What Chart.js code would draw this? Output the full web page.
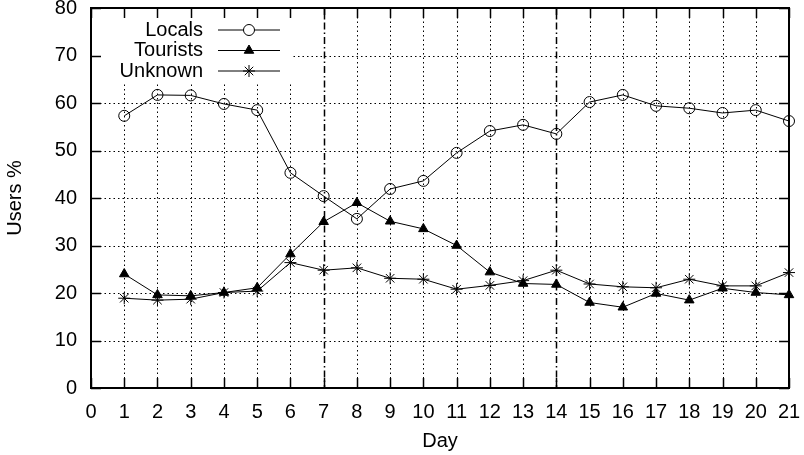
<!DOCTYPE html>
<html>
<head>
<meta charset="utf-8">
<script src="https://cdn.jsdelivr.net/npm/chart.js@4"></script>
<style>
  html, body { margin: 0; padding: 0; background: #fff; }
  #wrap { width: 804px; height: 455px; }
</style>
</head>
<body>
<div id="wrap"><canvas id="chart" width="804" height="455"></canvas></div>
<script>
const days = [1, 2, 3, 4, 5, 6, 7, 8, 9, 10, 11, 12, 13, 14, 15, 16, 17, 18, 19, 20, 21];
const locals = [57.3, 61.7, 61.6, 59.8, 58.5, 45.3, 40.4, 35.6, 41.9, 43.6, 49.5, 54.1, 55.4, 53.5, 60.2, 61.7, 59.4, 58.9, 57.9, 58.5, 56.2];
const tourists = [24.0, 19.6, 19.4, 20.1, 21.1, 28.2, 35.0, 39.0, 35.1, 33.5, 30.0, 24.4, 22.0, 21.8, 18.0, 17.0, 19.9, 18.5, 21.0, 20.1, 19.6];
const unknown = [18.9, 18.5, 18.7, 20.1, 20.4, 26.4, 24.8, 25.3, 23.1, 22.9, 20.8, 21.6, 22.6, 24.8, 21.9, 21.3, 21.1, 22.9, 21.5, 21.5, 24.3];
const weekLines = [7, 14];

const FONT = '"Liberation Sans", Arial, sans-serif';

function pts(values) {
    return days.map((d, i) => ({ x: d, y: values[i] }));
}

function line(ctx, x1, y1, x2, y2) {
    ctx.beginPath();
    ctx.moveTo(x1, y1);
    ctx.lineTo(x2, y2);
    ctx.stroke();
}

// gnuplot-like frame: dotted grid, week markers, inward ticks, boxed legend
const frame = {
    id: 'frame',
    beforeDatasetsDraw(chart) {
        const { ctx, chartArea: a, scales: { x, y } } = chart;
        ctx.save();
        ctx.strokeStyle = '#000';
        ctx.lineWidth = 1;
        ctx.setLineDash([1.5, 3]);
        x.ticks.forEach(t => {
            if (t.value <= x.min || t.value >= x.max || weekLines.includes(t.value)) return;
            const px = Math.round(x.getPixelForValue(t.value)) + 0.5;
            line(ctx, px, a.top, px, a.bottom);
        });
        y.ticks.forEach(t => {
            if (t.value <= y.min || t.value >= y.max) return;
            const py = Math.round(y.getPixelForValue(t.value)) + 0.5;
            line(ctx, a.left, py, a.right, py);
        });

        ctx.lineWidth = 1.5;
        ctx.setLineDash([7, 3, 1.5, 3]);
        weekLines.forEach(d => {
            const px = Math.round(x.getPixelForValue(d)) + 0.5;
            line(ctx, px, a.top, px, a.bottom);
        });
        ctx.setLineDash([]);

        // key box is opaque
        ctx.fillStyle = '#fff';
        ctx.fillRect(101, 18, 191, 66);

        ctx.lineWidth = 1.5;
        x.ticks.forEach(t => {
            const px = Math.round(x.getPixelForValue(t.value)) + 0.5;
            line(ctx, px, a.bottom, px, a.bottom - 10);
            line(ctx, px, a.top, px, a.top + 10);
        });
        y.ticks.forEach(t => {
            const py = Math.round(y.getPixelForValue(t.value)) + 0.5;
            line(ctx, a.left, py, a.left + 10, py);
            line(ctx, a.right, py, a.right - 10, py);
        });
        ctx.restore();
    },
    afterDatasetsDraw(chart) {
        const { ctx, chartArea: a } = chart;
        ctx.save();
        ctx.strokeStyle = '#000';
        ctx.lineWidth = 2;
        ctx.strokeRect(a.left, a.top, a.right - a.left, a.bottom - a.top);

        ctx.font = '20px ' + FONT;
        ctx.textAlign = 'right';
        ctx.textBaseline = 'middle';
        chart.data.datasets.forEach((ds, i) => {
            const yy = 30 + i * 20.5;
            ctx.fillStyle = '#000';
            ctx.fillText(ds.label, 203, yy);
            ctx.lineWidth = 1;
            line(ctx, 218, yy, 280, yy);
            ctx.fillStyle = ds.legendFill;
            ctx.strokeStyle = '#000';
            Chart.helpers.drawPoint(ctx, {
                pointStyle: ds.pointStyle,
                radius: ds.pointRadius,
                rotation: 0,
                borderWidth: 1
            }, 249, yy);
        });
        ctx.restore();
    }
};

new Chart(document.getElementById('chart'), {
    type: 'line',
    data: {
        datasets: [{
            label: 'Locals',
            data: pts(locals),
            pointStyle: 'circle',
            pointRadius: 5.5,
            pointBackgroundColor: 'rgba(0,0,0,0)',
            legendFill: '#fff'
        }, {
            label: 'Tourists',
            data: pts(tourists),
            pointStyle: 'triangle',
            pointRadius: 5.5,
            pointBackgroundColor: '#000',
            legendFill: '#000'
        }, {
            label: 'Unknown',
            data: pts(unknown),
            pointStyle: 'star',
            pointRadius: 6,
            pointBackgroundColor: '#000',
            legendFill: '#000'
        }].map(ds => Object.assign({
            borderColor: '#000',
            borderWidth: 1,
            pointBorderColor: '#000',
            pointBorderWidth: 1,
            tension: 0,
            clip: false
        }, ds))
    },
    options: {
        responsive: false,
        animation: false,
        devicePixelRatio: 1,
        layout: { padding: { top: 8, right: 15, left: 0, bottom: 0 } },
        plugins: {
            legend: { display: false },
            tooltip: { enabled: false }
        },
        scales: {
            x: {
                type: 'linear',
                min: 0,
                max: 21,
                ticks: { stepSize: 1, color: '#000', padding: 12, font: { family: FONT, size: 20 } },
                grid: { display: false, drawTicks: false },
                border: { display: false },
                title: {
                    display: true,
                    text: 'Day',
                    color: '#000',
                    font: { family: FONT, size: 20 },
                    padding: { top: 0, bottom: 2 }
                },
                afterFit(scale) {
                    scale.height = 67;
                    scale.paddingLeft = 0;
                    scale.paddingRight = 0;
                }
            },
            y: {
                min: 0,
                max: 80,
                ticks: { stepSize: 10, color: '#000', padding: 14, font: { family: FONT, size: 20 } },
                grid: { display: false, drawTicks: false },
                border: { display: false },
                title: {
                    display: true,
                    text: 'Users %',
                    color: '#000',
                    font: { family: FONT, size: 20 },
                    padding: { top: 3, bottom: 0 }
                },
                afterFit(scale) {
                    scale.width = 91;
                    scale.paddingTop = 0;
                    scale.paddingBottom = 0;
                }
            }
        }
    },
    plugins: [frame]
});
</script>
</body>
</html>
